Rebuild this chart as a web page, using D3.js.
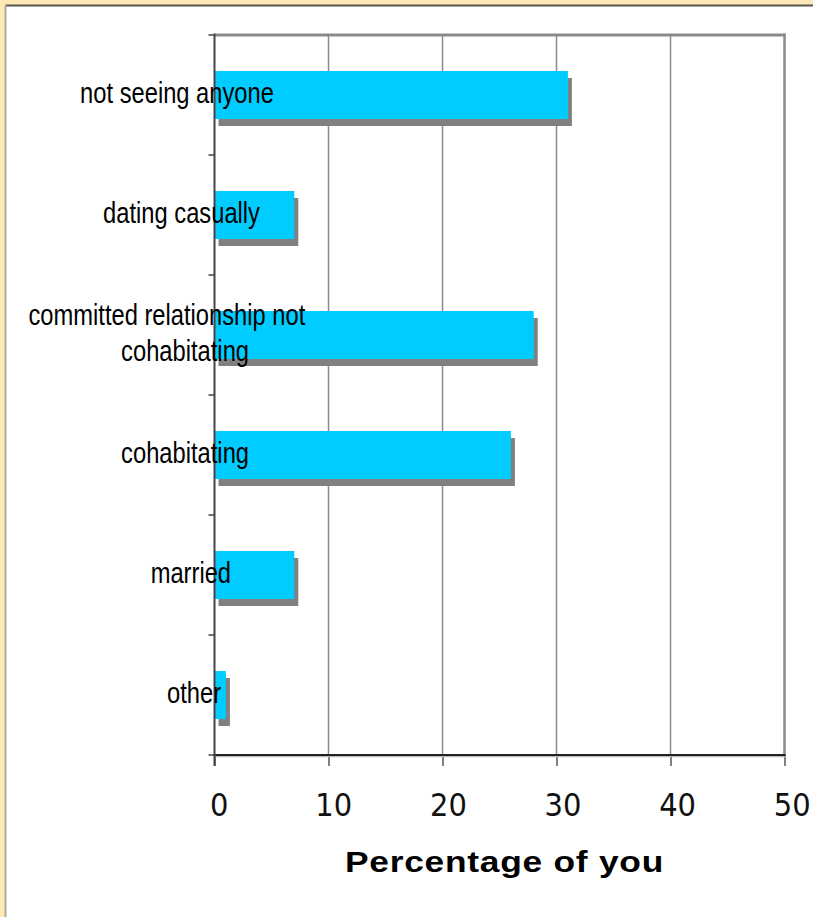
<!DOCTYPE html>
<html>
<head>
<meta charset="utf-8">
<script src="https://cdn.jsdelivr.net/npm/d3@7"></script>
<style>
  html, body { margin: 0; padding: 0; background: #FFE8B7; }
  svg { display: block; }
</style>
</head>
<body>
<script>
// Relationship status, share of respondents (%)
const categories = [
  ["not seeing anyone"],
  ["dating casually"],
  ["committed relationship not", "cohabitating"],
  ["cohabitating"],
  ["married"],
  ["other"]
];
const values = [31, 7, 28, 26, 7, 1];
const xTicks = [0, 10, 20, 30, 40, 50];
const xTitle = "Percentage of you";

const W = 813, H = 917;
const svg = d3.select("body").append("svg").attr("width", W).attr("height", H);

// page background and white panel with an inset edge
svg.append("rect").attr("width", W).attr("height", H).attr("fill", "#FFE8B7");
svg.append("rect").attr("x", 6).attr("y", 6).attr("width", W).attr("height", H).attr("fill", "#fff");
svg.append("line").attr("x1", 5.5).attr("x2", W).attr("y1", 5.5).attr("y2", 5.5)
  .attr("stroke", "#5a5650").attr("stroke-width", 2);
svg.append("line").attr("x1", 5.5).attr("x2", 5.5).attr("y1", 5).attr("y2", H)
  .attr("stroke", "#b0aa9e").attr("stroke-width", 2);

const plot = { left: 214.5, right: 784.5, top: 35, bottom: 755 };

const x = d3.scaleLinear().domain([0, 50]).range([plot.left, plot.right]);
const labelX = d3.scaleLinear().domain([0, 50]).range([218.7, 791.7]);
const y = d3.scaleBand()
  .domain(d3.range(categories.length))
  .range([plot.top, plot.bottom])
  .paddingInner(0.6)
  .paddingOuter(0.3);
const step = y.step();

// vertical gridlines
svg.append("g").selectAll("line")
  .data(xTicks.filter(d => d > 0 && d < 50))
  .join("line")
  .attr("x1", d => x(d)).attr("x2", d => x(d))
  .attr("y1", plot.top).attr("y2", plot.bottom)
  .attr("stroke", "#8a8a8a").attr("stroke-width", 1.5);

// plot frame (top and right)
svg.append("line").attr("x1", plot.left).attr("x2", plot.right + 1)
  .attr("y1", plot.top).attr("y2", plot.top)
  .attr("stroke", "#8a8a8a").attr("stroke-width", 3);
svg.append("line").attr("x1", plot.right).attr("x2", plot.right)
  .attr("y1", plot.top - 1.5).attr("y2", plot.bottom)
  .attr("stroke", "#8a8a8a").attr("stroke-width", 2.5);

// bar shadows, then bars
const bars = svg.append("g");
bars.selectAll("rect.shadow")
  .data(values)
  .join("rect")
  .attr("class", "shadow")
  .attr("x", x(0) + 4)
  .attr("y", (d, i) => y(i) + 7)
  .attr("width", d => x(d) - x(0))
  .attr("height", y.bandwidth())
  .attr("fill", "#808080");
bars.selectAll("rect.bar")
  .data(values)
  .join("rect")
  .attr("class", "bar")
  .attr("x", x(0))
  .attr("y", (d, i) => y(i))
  .attr("width", d => x(d) - x(0))
  .attr("height", y.bandwidth())
  .attr("fill", "#00CCFF");

// bottom axis: line, tick marks, labels
const xAxis = svg.append("g")
  .attr("transform", `translate(0,${plot.bottom})`)
  .call(d3.axisBottom(x).tickValues(xTicks).tickSize(11).tickSizeOuter(0).tickFormat(d3.format("d")));
xAxis.select(".domain").remove();
xAxis.selectAll(".tick line").attr("stroke", "#555").attr("stroke-width", 1.5);
xAxis.selectAll(".tick text")
  .attr("x", 0)
  .attr("y", 0)
  .attr("dy", 0)
  .attr("transform", d => `translate(${labelX(d) - x(d)},61) scale(1,1.07)`)
  .attr("fill", "#111")
  .style("font-family", "'DejaVu Sans', Verdana, sans-serif")
  .style("font-size", "29px");
svg.append("line").attr("x1", plot.left - 1).attr("x2", plot.right + 1)
  .attr("y1", plot.bottom + 1.5).attr("y2", plot.bottom + 1.5)
  .attr("stroke", "#bbb").attr("stroke-width", 1.5);
svg.append("line").attr("x1", plot.left - 1).attr("x2", plot.right + 1)
  .attr("y1", plot.bottom).attr("y2", plot.bottom)
  .attr("stroke", "#222").attr("stroke-width", 2);

// left axis: line and tick marks at category boundaries
svg.append("line").attr("x1", plot.left).attr("x2", plot.left)
  .attr("y1", plot.top - 1.5).attr("y2", plot.bottom + 11)
  .attr("stroke", "#444").attr("stroke-width", 2);
svg.append("g").selectAll("line")
  .data(d3.range(categories.length + 1))
  .join("line")
  .attr("x1", plot.left - 6).attr("x2", plot.left)
  .attr("y1", i => plot.top + i * step).attr("y2", i => plot.top + i * step)
  .attr("stroke", "#444").attr("stroke-width", 1.5);

// category labels in a condensed face, drawn over the bars
const catScaleX = 0.818;
const lineGap = 36.7;
categories.forEach((lines, i) => {
  const cy = y(i) + y.bandwidth() / 2 + 8;
  lines.forEach((ln, j) => {
    const ty = cy + (j - (lines.length - 1) / 2) * lineGap;
    const t = svg.append("text")
      .style("font-family", "'Liberation Sans', Arial, sans-serif")
      .style("font-size", "29px")
      .attr("fill", "#000")
      .text(ln);
    const w = t.node().getComputedTextLength() * catScaleX;
    t.attr("transform", `translate(${200.7 - 0.622 * w},${ty}) scale(${catScaleX},1)`);
  });
});

// axis title in a widened bold face, cut off at the panel edge
svg.append("clipPath").attr("id", "titleClip")
  .append("rect").attr("x", 0).attr("y", 820).attr("width", 662).attr("height", 80);
svg.append("g").attr("clip-path", "url(#titleClip)")
  .append("text")
  .attr("transform", "translate(345,872) scale(1.22,1)")
  .style("font-family", "'Liberation Sans', Arial, sans-serif")
  .style("font-weight", "bold")
  .style("font-size", "29px")
  .style("letter-spacing", "0.6px")
  .attr("fill", "#000")
  .text(xTitle);
</script>
</body>
</html>
